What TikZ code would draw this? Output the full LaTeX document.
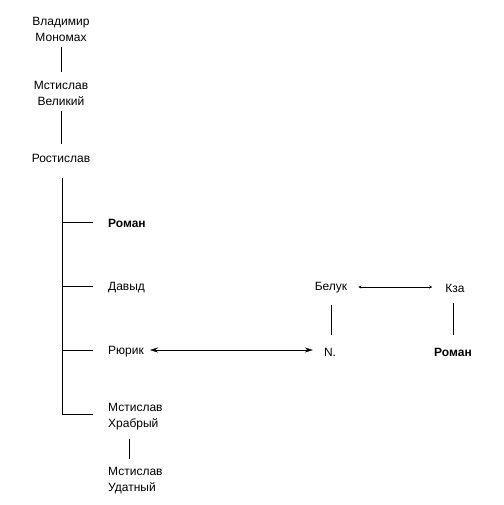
\documentclass[tikz,border=0pt]{standalone}
\usepackage{fontspec}
\setmainfont{Liberation Sans}
\usetikzlibrary{arrows.meta}

\begin{document}
\begin{tikzpicture}[x=1pt, y=-1pt, >=Stealth,
    person/.style={inner sep=3pt, font=\fontsize{12}{16}\selectfont, align=center},
    child/.style={person, anchor=west, align=left},
    ruler/.style={font=\fontsize{12}{16}\selectfont\bfseries}]
  \useasboundingbox (0,0) rectangle (503,505);

  \node[person] (vlad) at (61,29) {Владимир\\Мономах};
  \node[person] (mvel) at (61,93) {Мстислав\\Великий};
  \node[person] (rost) at (61,158) {Ростислав};

  \node[child, ruler] (roman1) at (105,223) {Роман};
  \node[child] (david)  at (105,288) {Давыд};
  \node[child] (ryurik) at (105,352) {Рюрик};
  \node[child] (mhrab)  at (105,417) {Мстислав\\Храбрый};
  \node[child] (mudat)  at (105,481) {Мстислав\\Удатный};

  \node[person] (beluk)  at (331,288) {Белук};
  \node[person] (kza)    at (455,288) {Кза};
  \node[person] (nn)     at (330,352) {N.};
  \node[person, ruler] (roman2) at (453,352) {Роман};

  % trunk of Rostislav's sons
  \coordinate (trunktop) at (62,178);
  \coordinate (trunkbot) at (62,414);
  \coordinate (hu) at (129,0);

  \draw[shorten <=3pt, shorten >=6pt] (vlad.south) -- (mvel.north);
  \draw[shorten <=3pt, shorten >=7pt] (mvel.south) -- (rost.north);
  \draw (trunktop) -- (trunkbot);
  \draw (trunktop |- 0,222) -- ([xshift=-12pt]roman1.west |- 0,222);
  \draw (trunktop |- 0,286) -- ([xshift=-12pt]david.west |- 0,286);
  \draw (trunktop |- 0,350) -- ([xshift=-12pt]ryurik.west |- 0,350);
  \draw (trunkbot) -- ([xshift=-12pt]trunkbot -| mhrab.west);
  \draw[shorten <=5pt, shorten >=5pt] (hu |- mhrab.south) -- (hu |- mudat.north);

  % marriages
  \draw[{Stealth[length=8pt,width=5pt]}-{Stealth[length=8pt,width=5pt]}, shorten <=3pt, shorten >=8pt] (ryurik.east |- 0,350) -- (nn.west |- 0,350);
  \draw[{Stealth[length=3pt,width=3pt]}-{Stealth[length=3pt,width=3pt]}, shorten <=8pt, shorten >=10pt] (beluk.east |- 0,287) -- (kza.west |- 0,287);
  \draw[shorten <=8pt, shorten >=10pt] (beluk.south) -- (beluk.south |- nn.north);
  \draw[shorten <=8pt, shorten >=10pt] (roman2.north |- kza.south) -- (roman2.north);
\end{tikzpicture}
\end{document}
